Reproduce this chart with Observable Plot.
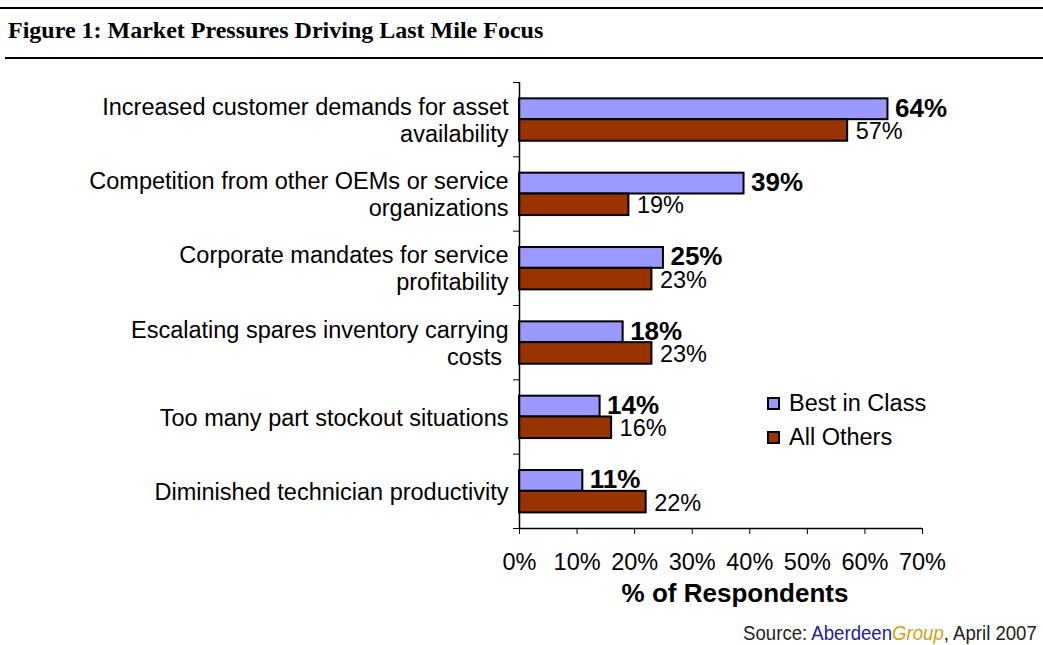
<!DOCTYPE html>
<html>
<head>
<meta charset="utf-8">
<script src="https://cdn.jsdelivr.net/npm/d3@7"></script>
<script src="https://cdn.jsdelivr.net/npm/@observablehq/plot@0.6"></script>
<style>
  html, body { margin: 0; padding: 0; background: #fff; }
  body { width: 1043px; height: 645px; position: relative; overflow: hidden; font-family: Arial, "Liberation Sans", sans-serif; }
  .rule { position: absolute; left: 0; right: 0; height: 2px; background: #000; }
  #title { position: absolute; left: 8px; top: 17px; font-family: "Times New Roman", "Liberation Serif", serif; font-weight: bold; font-size: 24px; color: #000; white-space: nowrap; }
  #chart { position: absolute; left: 0; top: 70px; }
  #legend { position: absolute; left: 767px; top: 386px; font-size: 23.5px; color: #000; }
  .li { display: flex; align-items: center; height: 34px; white-space: nowrap; }
  .sw { width: 9px; height: 9px; border: 2px solid #000; margin-right: 9px; }
  #source { position: absolute; right: 6px; top: 622px; font-family: Arial, "Liberation Sans", sans-serif; font-size: 20px; color: #222; white-space: nowrap; transform: scaleX(0.93); transform-origin: right center; }
  #source .ab { color: #1c1c9c; }
  #source .gr { color: #d4a017; font-style: italic; }
</style>
</head>
<body>
<div class="rule" style="top:7px"></div>
<div id="title">Figure 1: Market Pressures Driving Last Mile Focus</div>
<div class="rule" style="top:57px; left:5px"></div>
<div id="chart"></div>
<div id="legend">
  <div class="li"><div class="sw" style="background:#9999ff"></div>Best in Class</div>
  <div class="li"><div class="sw" style="background:#993300"></div>All Others</div>
</div>
<div id="source">Source: <span class="ab">Aberdeen</span><span class="gr">Group</span>, April 2007</div>
<script>
const categories = [
  "Increased customer demands for asset\navailability",
  "Competition from other OEMs or service\norganizations",
  "Corporate mandates for service\nprofitability",
  "Escalating spares inventory carrying\ncosts\u00a0",
  "Too many part stockout situations",
  "Diminished technician productivity"
];
const seriesNames = ["Best in Class", "All Others"];
const bestInClass = [64, 39, 25, 18, 14, 11];
const allOthers = [57, 19, 23, 23, 16, 22];
const colors = ["#9999ff", "#993300"];
const xTicks = [0, 10, 20, 30, 40, 50, 60, 70];

const rows = [];
categories.forEach((c, i) => {
  rows.push({category: c, i, series: seriesNames[0], value: bestInClass[i], y1: i + 0.22, y2: i + 0.5});
  rows.push({category: c, i, series: seriesNames[1], value: allOthers[i], y1: i + 0.5, y2: i + 0.79});
});
const blue = rows.filter(d => d.series === seriesNames[0]);
const red = rows.filter(d => d.series === seriesNames[1]);

const plot = Plot.plot({
  width: 1043,
  height: 540,
  marginTop: 12,
  marginBottom: 82,
  marginLeft: 519,
  marginRight: 121,
  style: {fontFamily: "Arial, 'Liberation Sans', sans-serif", fontSize: "23.5px", color: "#000", background: "#fff"},
  x: {domain: [0, 70]},
  y: {domain: [0, categories.length], reverse: true},
  color: {domain: seriesNames, range: colors},
  marks: [
    Plot.rect(rows, {x1: 0, x2: "value", y1: "y1", y2: "y2", fill: "series", stroke: "#000", strokeWidth: 2}),
    Plot.ruleX([0], {stroke: "#000", strokeWidth: 1.5}),
    Plot.ruleY([categories.length], {stroke: "#000", strokeWidth: 1.5}),
    Plot.axisY({ticks: d3.range(0, categories.length + 1), tickSize: 6, tickFormat: () => "", stroke: "#000", label: null}),
    Plot.axisX({ticks: xTicks, tickSize: 6, tickPadding: 19, tickFormat: d => d + "%", fontSize: 23.5, label: null, stroke: "#000"}),
    Plot.text(["% of Respondents"], {frameAnchor: "bottom", dy: 73, dx: 14, fontWeight: "bold", fontSize: 26}),
    Plot.text(categories, {x: 0, y: (d, i) => i + 0.5, text: d => d, textAnchor: "end", dx: -11, fontSize: 23.5, lineHeight: 1.15}),
    Plot.text(blue, {x: "value", y: d => (d.y1 + d.y2) / 2, text: d => d.value + "%", textAnchor: "start", dx: 7, dy: -1, fontWeight: "bold", fontSize: 26}),
    Plot.text(red, {x: "value", y: d => (d.y1 + d.y2) / 2, text: d => d.value + "%", textAnchor: "start", dx: 8, dy: 1, fontSize: 23.5})
  ]
});
document.getElementById("chart").appendChild(plot);
</script>
</body>
</html>
